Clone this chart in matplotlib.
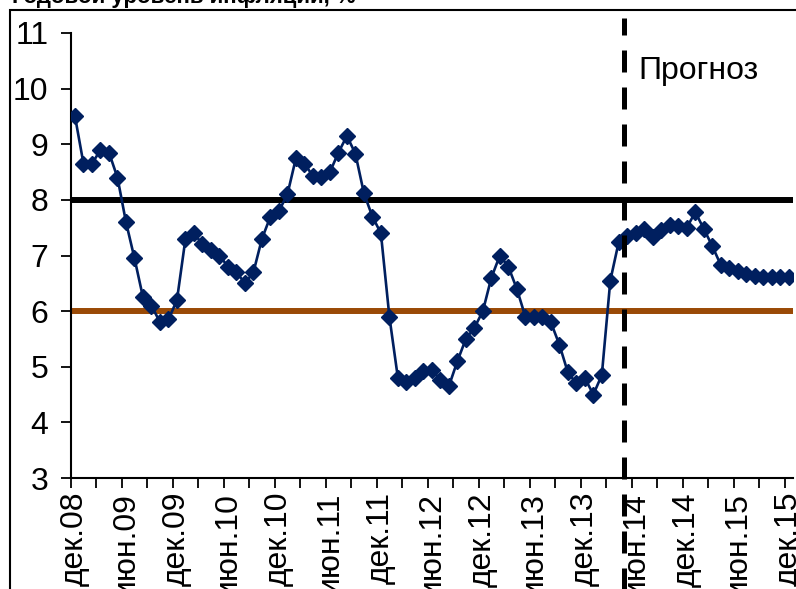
import matplotlib
matplotlib.use('Agg')
import matplotlib.pyplot as plt
from matplotlib.patches import Rectangle
import numpy as np

plt.rcParams['font.family'] = ['Liberation Sans', 'DejaVu Sans']

# monthly values, dec.08 .. dec.15
inflation = [9.5, 8.65, 8.65, 8.9, 8.85, 8.4, 7.6, 6.95, 6.25, 6.1, 5.8, 5.85,
             6.2, 7.3, 7.4, 7.2, 7.1, 7.0, 6.8, 6.7, 6.5, 6.7, 7.3, 7.7,
             7.8, 8.1, 8.75, 8.65, 8.43, 8.42, 8.5, 8.85, 9.15, 8.83, 8.12, 7.7,
             7.4, 5.9, 4.8, 4.72, 4.8, 4.92, 4.95, 4.76, 4.65, 5.1, 5.5, 5.7,
             6.0, 6.6, 7.0, 6.8, 6.4, 5.9, 5.9, 5.9, 5.8, 5.4, 4.9, 4.7,
             4.8, 4.5, 4.85, 6.55, 7.25, 7.35, 7.4, 7.48, 7.33, 7.46, 7.55, 7.53,
             7.5, 7.78, 7.48, 7.17, 6.83, 6.78, 6.72, 6.67, 6.63, 6.62, 6.62, 6.62,
             6.62]
tick_labels = ['дек.08', 'июн.09', 'дек.09', 'июн.10', 'дек.10', 'июн.11', 'дек.11',
               'июн.12', 'дек.12', 'июн.13', 'дек.13', 'июн.14', 'дек.14', 'июн.15', 'дек.15']
upper_bound = 8
lower_bound = 6
forecast_start = 64.6

x = np.arange(len(inflation))

fig = plt.figure(figsize=(7.96, 5.89), dpi=100)
ax = fig.add_axes([70.75 / 796, 111 / 589, (793 - 70.75) / 796, 445 / 589])

ax.axhline(upper_bound, color='black', lw=4.3, solid_capstyle='round', zorder=2)
ax.axhline(lower_bound, color='#9A4A06', lw=4.3, solid_capstyle='round', zorder=2)

ax.plot(x, inflation, color='#001F5F', lw=1.9, marker='D', ms=8.5,
        markerfacecolor='#001F5F', markeredgecolor='#001F5F', zorder=3)

# forecast divider
ax.plot([forecast_start, forecast_start], [0.9, 11.27], color='black', lw=3.6,
        dashes=(4.4, 3.0), clip_on=False, zorder=4)
ax.text(66.3, 10.32, 'Прогноз', fontsize=23, ha='left', va='center')

ax.set_xlim(-0.5, len(inflation) - 0.5)
ax.set_ylim(3, 11)
ax.set_yticks(range(3, 12))
ax.tick_params(axis='y', direction='out', length=7, width=1.3, labelsize=23, pad=9)

ax.set_xticks(np.arange(0, len(inflation), 6))
ax.set_xticklabels(tick_labels, rotation=90, fontsize=23)
ax.set_xticks(np.arange(-0.5, len(inflation), 3), minor=True)
ax.tick_params(axis='x', which='major', length=0, pad=10)
ax.tick_params(axis='x', which='minor', direction='out', length=7, width=1.3)

for s in ['top', 'right']:
    ax.spines[s].set_visible(False)
for s in ['left', 'bottom']:
    ax.spines[s].set_linewidth(1.5)

# chart border and cut-off title
fig.add_artist(Rectangle((10 / 796, -0.1), 1.0, (589 - 10) / 589 + 0.1, transform=fig.transFigure,
                         fill=False, edgecolor='black', lw=1.5))
fig.text(12 / 796, 1 - 3 / 589, 'Годовой уровень инфляции, %', fontsize=16,
         fontweight='bold', ha='left', va='baseline')

fig.savefig('out.png', dpi=100)
